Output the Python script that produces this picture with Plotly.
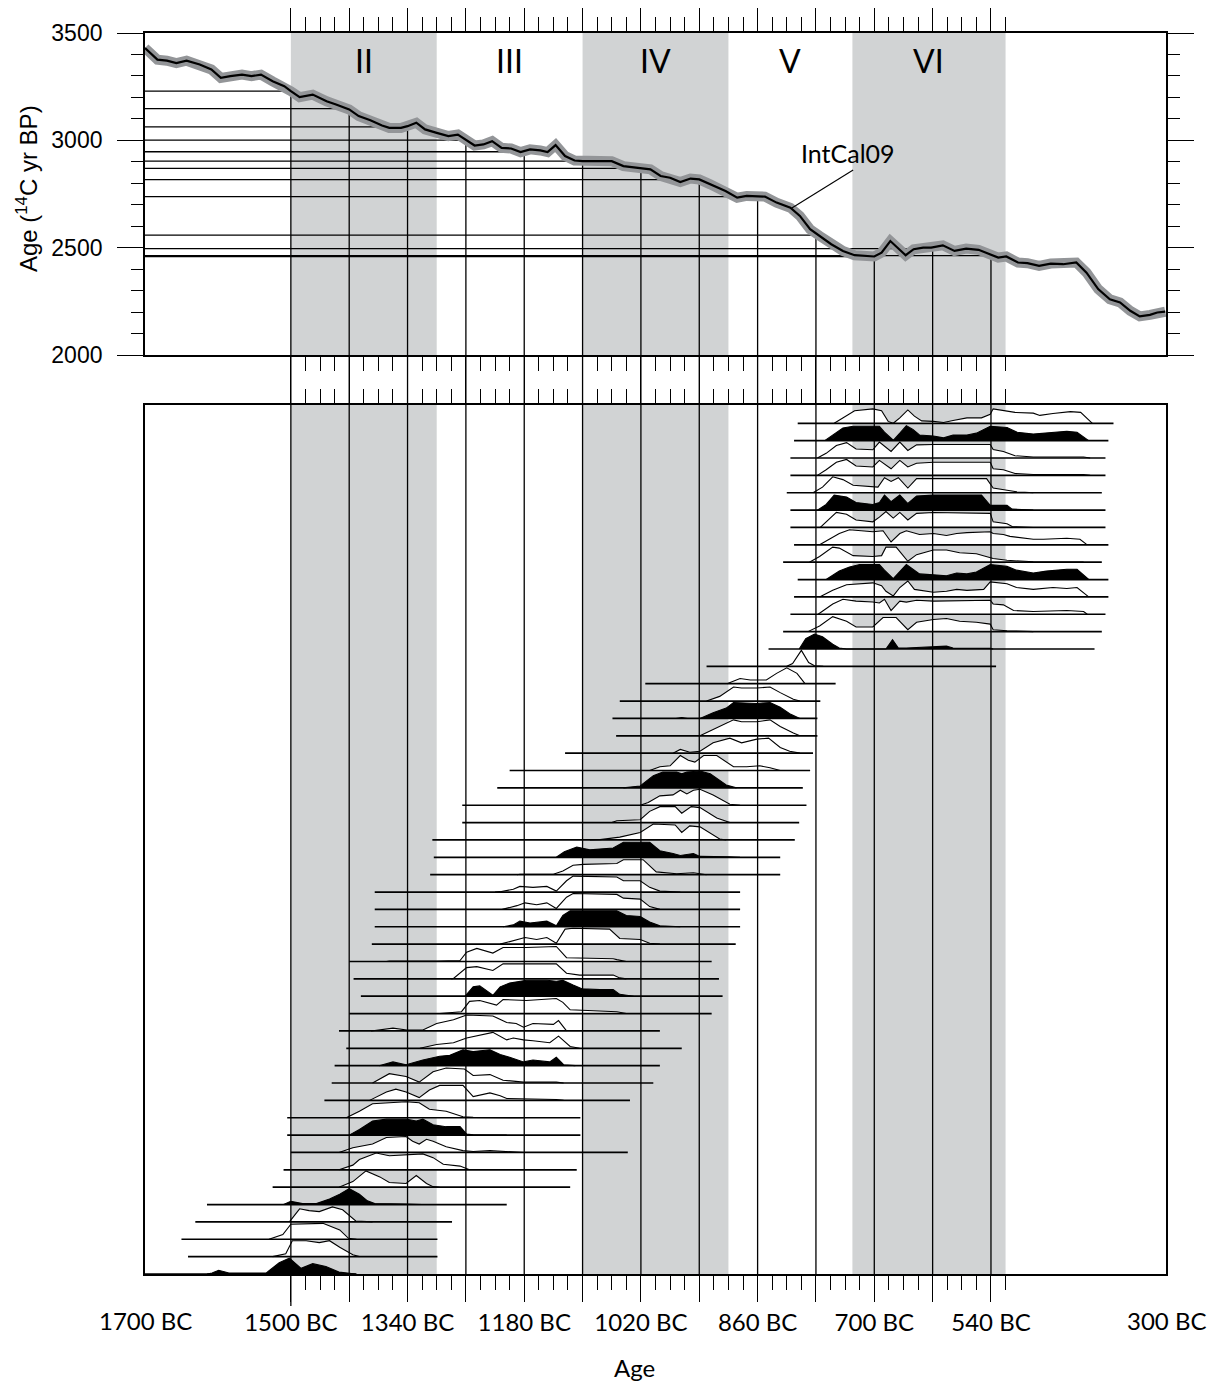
import plotly.graph_objects as go

# ---------------- data ----------------
# IntCal09 calibration curve: calendar age (years BC) and radiocarbon age (14C yr BP)
intcal_bc = [1700,1683,1670,1657,1643,1625,1609,1596,1583,1567,1554,1541,1525,1509,1500,1488,1470,1451,1438,1420,
             1407,1391,1375,1365,1349,1340,1328,1316,1300,1284,1271,1260,1248,1236,1224,1211,1198,1185,1172,1158,
             1148,1137,1124,1111,1100,1077,1060,1044,1020,1007,993,980,966,952,940,925,904,888,875,850,
             834,815,802,788,775,759,743,727,700,690,678,668,657,646,633,622,606,590,574,557,
             540,530,519,503,490,474,458,441,423,409,393,377,363,349,336,322,312,301]
intcal_c14 = [3430,3376,3371,3360,3371,3353,3330,3291,3299,3306,3299,3306,3275,3252,3229,3201,3213,3182,3167,3144,
              3113,3094,3069,3058,3058,3066,3082,3051,3035,3020,3027,3004,2976,2981,2996,2965,2962,2945,2958,2953,
              2945,2978,2927,2906,2903,2903,2903,2880,2872,2865,2834,2826,2806,2822,2818,2795,2764,2733,2741,2738,
              2710,2686,2648,2586,2555,2516,2485,2465,2459,2477,2531,2500,2465,2493,2500,2500,2511,2485,2496,2490,
              2469,2454,2459,2431,2428,2415,2426,2423,2431,2384,2307,2260,2245,2206,2180,2187,2198,2202]

# reference years (major grid) and the 14C ages where they meet the curve
grid_bc = [1500, 1420, 1340, 1260, 1180, 1100, 1020, 940, 860, 780, 700, 620, 540]
grid_c14 = [3229, 3148, 3063, 3001, 2947, 2903, 2869, 2817, 2738, 2559, 2459, 2496, 2463]
minor_bc = [1480, 1460, 1440, 1400, 1380, 1360, 1320, 1300, 1280, 1240, 1220, 1200, 1160, 1140, 1120,
            1080, 1060, 1040, 1000, 980, 960, 920, 900, 880, 840, 820, 800, 760, 740, 720,
            680, 660, 640, 600, 580, 560, 520]
label_bc = [1500, 1340, 1180, 1020, 860, 700, 540]
end_label_bc = [1700, 300]
long_tick_bc = 1500
c14_major = [2000, 2500, 3000, 3500]
c14_minor = [2100, 2200, 2300, 2400, 2600, 2700, 2800, 2900, 3100, 3200, 3300, 3400]

# periods
period_names = ['II', 'III', 'IV', 'V', 'VI']
period_start_bc = [1500, 1300, 1100, 900, 730]
period_end_bc = [1300, 1100, 900, 730, 520]
period_shaded = [True, False, True, False, True]

# calibrated distributions (row 0 = top); baseline extent in years BC
row_start_bc = [805, 810, 815, 815, 820, 815, 815, 810, 825, 805,
                810, 815, 825, 845, 930, 1014, 1049, 1059, 1054, 1124,
                1200, 1217, 1265, 1265, 1306, 1304, 1309, 1385, 1385, 1385,
                1389, 1420, 1414, 1404, 1420, 1434, 1424, 1440, 1444, 1454,
                1505, 1505, 1500, 1510, 1525, 1615, 1631, 1650, 1641, 1700]
row_end_bc = [372, 379, 383, 383, 388, 383, 383, 379, 388, 379,
              379, 383, 388, 398, 533, 753, 774, 778, 778, 784,
              788, 798, 793, 803, 809, 829, 829, 884, 884, 884,
              890, 923, 913, 908, 923, 994, 964, 994, 1003, 1035,
              1103, 1103, 1038, 1108, 1117, 1204, 1279, 1299, 1299, 1410]
black_rows = [1, 5, 9, 13, 17, 21, 25, 29, 33, 37, 41, 45, 49]

# relative probability profiles: (year BC, height in row units)
row_profiles = [
    [(755,0),(738,0.38),(727,0.67),(702,0.77),(690,0.67),(681,0.1),(674,0),(665,0.29),(654,0.71),(645,0.38),(635,0.13),(619,0.1),(605,0.04),(592,0.15),(573,0.29),(553,0.29),(541,0.48),(537,0.77),(507,0.58),(482,0.54),(473,0.42),(455,0.52),(431,0.62),(417,0.58),(401,0)],
    [(768,0),(752,0.44),(743,0.67),(729,0.77),(693,0.77),(686,0.45),(674,0.02),(665,0.4),(656,0.8),(647,0.6),(638,0.3),(619,0.25),(605,0.15),(592,0.3),(573,0.3),(560,0.4),(541,0.77),(518,0.7),(504,0.45),(482,0.35),(463,0.4),(445,0.45),(436,0.5),(422,0.45),(406,0)],
    [(778,0),(766,0.25),(752,0.67),(738,0.82),(725,0.48),(702,0.44),(693,0.85),(677,0.35),(665,0.85),(654,0.4),(642,0.7),(619,0.72),(541,0.72),(537,0.45),(523,0.35),(507,0.12),(482,0.05),(413,0.05),(404,0)],
    [(778,0),(766,0.3),(752,0.7),(738,0.85),(725,0.5),(702,0.45),(693,0.8),(677,0.35),(665,0.8),(654,0.45),(642,0.65),(619,0.7),(541,0.7),(537,0.35),(523,0.3),(507,0.1),(482,0.05),(413,0.05),(404,0)],
    [(784,0),(771,0.3),(757,0.85),(743,0.7),(729,0.4),(702,0.3),(695,0.3),(686,0.8),(677,0.6),(667,0.8),(654,0.25),(642,0.75),(619,0.75),(546,0.75),(537,0.25),(518,0.15),(505,0.05),(482,0)],
    [(778,0),(766,0.3),(755,0.8),(738,0.7),(725,0.4),(702,0.3),(693,0.4),(686,0.8),(677,0.45),(665,0.8),(654,0.35),(642,0.75),(619,0.8),(553,0.8),(541,0.25),(518,0.25),(511,0.05),(482,0)],
    [(774,0),(766,0.3),(752,0.8),(738,0.7),(725,0.4),(702,0.3),(693,0.55),(684,0.85),(674,0.5),(665,0.8),(654,0.4),(642,0.75),(619,0.8),(541,0.75),(537,0.3),(518,0.2),(511,0.05),(482,0)],
    [(775,0),(748,0.6),(734,0.8),(702,0.7),(688,0.75),(677,0.15),(665,0.6),(656,0.75),(638,0.55),(619,0.6),(601,0.5),(587,0.6),(573,0.65),(541,0.7),(537,0.6),(523,0.55),(514,0.45),(482,0.3),(468,0.3),(436,0.35),(418,0.3),(408,0)],
    [(789,0),(775,0.3),(757,0.8),(748,0.75),(729,0.35),(702,0.3),(690,0.35),(684,0.8),(670,0.8),(654,0.05),(642,0.4),(619,0.65),(601,0.65),(583,0.5),(560,0.45),(541,0.25),(537,0.2),(518,0.1),(482,0.02),(413,0)],
    [(766,0),(748,0.45),(734,0.67),(720,0.8),(693,0.8),(686,0.5),(674,0.05),(665,0.4),(656,0.8),(647,0.55),(638,0.3),(619,0.25),(601,0.2),(587,0.35),(573,0.3),(560,0.4),(541,0.8),(518,0.7),(505,0.5),(482,0.35),(464,0.45),(436,0.55),(422,0.55),(406,0)],
    [(775,0),(757,0.35),(738,0.65),(702,0.75),(690,0.6),(684,0.3),(674,0.05),(665,0.5),(654,0.85),(645,0.4),(619,0.25),(601,0.3),(587,0.4),(573,0.35),(550,0.4),(541,0.8),(518,0.7),(505,0.5),(482,0.4),(455,0.5),(436,0.45),(422,0.5),(406,0)],
    [(777,0),(757,0.55),(743,0.8),(725,0.7),(702,0.65),(693,0.6),(686,0.8),(677,0.2),(665,0.7),(656,0.65),(642,0.75),(619,0.7),(541,0.75),(537,0.55),(523,0.5),(509,0.2),(482,0.15),(436,0.2),(413,0.15),(408,0)],
    [(791,0),(775,0.3),(757,0.8),(738,0.55),(725,0.25),(702,0.25),(688,0.75),(670,0.75),(654,0.1),(642,0.5),(619,0.65),(601,0.7),(583,0.55),(560,0.5),(541,0.4),(537,0.1),(518,0.05),(482,0)],
    [(803,0),(794,0.55),(782,0.8),(771,0.65),(757,0.25),(748,0.05),(738,0),(684,0),(675,0.5),(667,0.05),(656,0.05),(619,0.1),(601,0.15),(592,0.05),(573,0.05),(541,0.03),(537,0)],
    [(820,0),(812,0.15),(800,0.85),(790,0.2),(782,0.03),(770,0)],
    [(902,0),(884,0.28),(870,0.2),(848,0.2),(834,0.55),(820,0.85),(806,0.55),(795,0)],
    [(930,0),(912,0.25),(893,0.75),(882,0.7),(861,0.7),(843,0.75),(829,0.45),(811,0.1),(802,0)],
    [(972,0),(964,0.05),(956,0),(939,0),(921,0.3),(903,0.55),(893,0.85),(875,0.8),(861,0.8),(843,0.85),(829,0.6),(816,0.25),(802,0)],
    [(939,0),(921,0.35),(903,0.7),(893,0.85),(882,0.75),(861,0.75),(843,0.85),(829,0.5),(811,0.15),(802,0)],
    [(976,0),(966,0.2),(953,0.05),(939,0.1),(921,0.55),(898,0.8),(882,0.55),(861,0.75),(845,0.8),(829,0.3),(816,0.1),(802,0)],
    [(1008,0),(994,0.2),(980,0.25),(966,0.8),(955,0.55),(946,0.45),(934,0.8),(916,0.8),(893,0.2),(875,0.2),(857,0.25),(843,0.15),(829,0)],
    [(1044,0),(1021,0.1),(1003,0.65),(990,0.85),(971,0.85),(964,0.75),(957,0.85),(939,0.9),(925,0.75),(903,0.15),(889,0)],
    [(1021,0),(1010,0.15),(994,0.5),(976,0.55),(966,0.8),(957,0.6),(948,0.8),(939,0.85),(921,0.55),(898,0.05),(884,0)],
    [(1060,0),(1053,0.1),(1021,0.15),(1008,0.6),(994,0.85),(973,0.85),(964,0.5),(951,0.85),(939,0.8),(916,0.25),(898,0)],
    [(1090,0),(1076,0.02),(1049,0.15),(1021,0.4),(1003,0.85),(973,0.8),(964,0.4),(953,0.75),(939,0.7),(912,0.05),(903,0)],
    [(1136,0),(1125,0.3),(1108,0.55),(1090,0.4),(1058,0.5),(1044,0.8),(1008,0.8),(994,0.35),(976,0.2),(966,0.1),(948,0.2),(939,0.05),(900,0.03),(884,0)],
    [(1190,0),(1186,0.02),(1140,0.02),(1127,0.2),(1113,0.5),(1099,0.55),(1053,0.6),(1044,0.8),(1017,0.8),(999,0.15),(971,0.05),(948,0.1),(930,0)],
    [(1220,0),(1213,0.02),(1195,0.15),(1186,0.3),(1168,0.25),(1149,0.3),(1136,0.05),(1122,0.6),(1113,0.85),(1053,0.8),(1044,0.6),(1021,0.6),(1008,0.25),(994,0.05),(966,0)],
    [(1210,0),(1204,0.05),(1190,0.2),(1179,0.35),(1163,0.25),(1149,0.35),(1136,0.05),(1122,0.65),(1113,0.85),(1053,0.8),(1044,0.6),(1021,0.55),(1008,0.15),(994,0)],
    [(1209,0),(1195,0.1),(1186,0.3),(1172,0.2),(1149,0.3),(1136,0.05),(1127,0.6),(1117,0.85),(1053,0.85),(1040,0.6),(1021,0.55),(1008,0.25),(994,0.05),(966,0)],
    [(1213,0),(1195,0.2),(1179,0.35),(1163,0.25),(1149,0.35),(1136,0.05),(1124,0.8),(1113,0.85),(1063,0.8),(1049,0.3),(1021,0.25),(1008,0.05),(994,0)],
    [(1369,0),(1365,0.02),(1300,0.02),(1268,0.05),(1259,0.5),(1245,0.7),(1223,0.45),(1209,0.75),(1177,0.75),(1136,0.8),(1122,0.2),(1058,0.15),(1053,0.1),(1040,0)],
    [(1280,0),(1277,0.02),(1259,0.6),(1245,0.65),(1223,0.45),(1209,0.8),(1177,0.8),(1136,0.8),(1122,0.3),(1104,0.2),(1058,0.2),(1049,0.05),(1040,0)],
    [(1261,0),(1250,0.5),(1241,0.55),(1223,0.05),(1213,0.5),(1200,0.7),(1177,0.85),(1149,0.85),(1136,0.8),(1127,0.85),(1113,0.6),(1101,0.4),(1076,0.35),(1058,0.35),(1049,0.1),(1030,0)],
    [(1296,0),(1266,0.1),(1255,0.65),(1241,0.7),(1218,0.45),(1209,0.75),(1177,0.7),(1136,0.8),(1127,0.6),(1117,0.2),(1053,0.1),(1040,0)],
    [(1390,0),(1378,0.05),(1360,0.15),(1341,0.05),(1319,0.05),(1300,0.4),(1277,0.6),(1259,0.85),(1223,0.8),(1204,0.45),(1191,0.4),(1181,0.2),(1168,0.4),(1140,0.35),(1133,0.55),(1122,0)],
    [(1323,0),(1300,0.2),(1277,0.3),(1259,0.55),(1223,0.85),(1204,0.45),(1195,0.55),(1181,0.45),(1168,0.4),(1145,0.3),(1133,0.65),(1117,0.1),(1104,0)],
    [(1379,0),(1360,0.2),(1342,0.05),(1319,0.3),(1296,0.5),(1282,0.55),(1264,0.85),(1250,0.75),(1227,0.85),(1213,0.6),(1200,0.45),(1181,0.2),(1168,0.3),(1145,0.2),(1136,0.45),(1126,0.05),(1110,0)],
    [(1388,0),(1365,0.5),(1342,0.35),(1324,0.05),(1305,0.6),(1287,0.8),(1262,0.75),(1250,0.4),(1227,0.45),(1209,0.15),(1181,0.05),(1136,0.05),(1126,0)],
    [(1392,0),(1369,0.45),(1356,0.6),(1342,0.45),(1324,0.15),(1310,0.55),(1296,0.8),(1264,0.8),(1250,0.2),(1227,0.4),(1213,0.25),(1204,0.1),(1136,0.05),(1126,0)],
    [(1424,0),(1406,0.35),(1388,0.75),(1369,0.8),(1342,0.85),(1324,0.8),(1310,0.45),(1287,0.35),(1264,0.05),(1250,0.02),(1204,0.02),(1181,0)],
    [(1420,0),(1406,0.3),(1388,0.75),(1369,0.85),(1342,0.85),(1328,0.75),(1319,0.85),(1305,0.55),(1287,0.45),(1268,0.45),(1259,0.05),(1250,0.02),(1204,0)],
    [(1434,0),(1415,0.25),(1388,0.45),(1369,0.8),(1342,0.85),(1333,0.6),(1324,0.45),(1314,0.7),(1305,0.6),(1287,0.3),(1264,0.1),(1250,0.05),(1227,0.1),(1204,0.05),(1181,0)],
    [(1434,0),(1415,0.25),(1406,0.55),(1383,0.9),(1365,0.75),(1342,0.8),(1319,0.85),(1305,0.65),(1291,0.3),(1268,0.2),(1262,0.1),(1255,0)],
    [(1434,0),(1415,0.3),(1397,0.87),(1378,0.55),(1365,0.25),(1342,0.2),(1328,0.62),(1314,0.2),(1305,0.03),(1296,0)],
    [(1510,0),(1500,0.17),(1484,0.05),(1465,0.05),(1447,0.3),(1433,0.55),(1420,0.85),(1406,0.55),(1395,0.2),(1385,0.05),(1340,0.03),(1320,0)],
    [(1502,0),(1488,0.7),(1475,0.6),(1461,0.55),(1443,0.8),(1429,0.65),(1411,0.05),(1388,0)],
    [(1530,0),(1511,0.25),(1500,0.8),(1456,0.85),(1433,0.5),(1421,0.05),(1410,0)],
    [(1525,0),(1507,0.15),(1498,0.85),(1479,0.85),(1461,0.75),(1447,0.85),(1433,0.5),(1415,0.1),(1406,0)],
    [(1615,0),(1608,0.05),(1599,0.2),(1585,0.05),(1534,0.05),(1516,0.6),(1502,0.85),(1486,0.3),(1470,0.55),(1452,0.4),(1434,0.1),(1411,0)],
]

curve_label = 'IntCal09'
curve_label_pos = (736, 2941)
curve_leader = (729, 2862, 813, 2685)

# ---------------- styling ----------------
# the page body adds an 8 px offset, so the figure is 8 px smaller than the window
W, H = 1208, 1389
PLOT_H = 1241
TOP_DOM = [0.7405, 1.0]
LOW_DOM = [0.0, 0.7002]
N_ROWS = len(row_profiles)
LOW_YMAX = 50.05
ROW_SCALE = 1.08          # height of one probability unit in row spacings
BAND = '#d1d3d4'
ENVELOPE = '#939598'
XR = [-1700, -300]
TXT_FONT = 'Lato, Open Sans, sans-serif'
NUM_FONT = 'Liberation Sans, Arial, sans-serif'

fig = go.Figure()

# shaded periods
for s, e, sh in zip(period_start_bc, period_end_bc, period_shaded):
    if sh:
        fig.add_shape(type='rect', xref='x', yref='y', x0=-s, x1=-e, y0=2000, y1=3500,
                      fillcolor=BAND, line_width=0, layer='below')
        fig.add_shape(type='rect', xref='x2', yref='y2', x0=-s, x1=-e, y0=0, y1=LOW_YMAX,
                      fillcolor=BAND, line_width=0, layer='below')

# construction lines in the calibration panel
hx, hy, vx, vy = [], [], [], []
for bc, c in zip(grid_bc, grid_c14):
    hx += [XR[0], -bc, None]
    hy += [c, c, None]
    vx += [-bc, -bc, None]
    vy += [2000, c, None]
fig.add_trace(go.Scatter(x=hx, y=hy, mode='lines', line=dict(color='black', width=1.3),
                         xaxis='x', yaxis='y', hoverinfo='skip', showlegend=False))
fig.add_trace(go.Scatter(x=vx, y=vy, mode='lines', line=dict(color='black', width=1.3),
                         xaxis='x', yaxis='y', hoverinfo='skip', showlegend=False))

# calibration curve
cx = [-b for b in intcal_bc]
fig.add_trace(go.Scatter(x=cx, y=intcal_c14, mode='lines', line=dict(color=ENVELOPE, width=10),
                         xaxis='x', yaxis='y', hoverinfo='skip', showlegend=False))
fig.add_trace(go.Scatter(x=cx, y=intcal_c14, mode='lines', line=dict(color='black', width=2.2),
                         xaxis='x', yaxis='y', hoverinfo='skip', showlegend=False))

# calibrated distributions
for i in range(N_ROWS):
    y0 = N_ROWS - 1 - i
    prof = row_profiles[i]
    is_black = i in black_rows
    fig.add_trace(go.Scatter(x=[-a for a, h in prof], y=[y0 + h * ROW_SCALE for a, h in prof], mode='lines',
                             fill='toself', fillcolor='black' if is_black else 'white',
                             line=dict(color='black', width=1.1), xaxis='x2', yaxis='y2',
                             hoverinfo='skip', showlegend=False))
    fig.add_trace(go.Scatter(x=[-row_start_bc[i], -row_end_bc[i]], y=[y0, y0], mode='lines',
                             line=dict(color='black', width=1.7), xaxis='x2', yaxis='y2',
                             hoverinfo='skip', showlegend=False))

# vertical reference lines through the gap and the lower panel
for bc in grid_bc:
    fig.add_shape(type='line', xref='x2', yref='paper', x0=-bc, x1=-bc, y0=0, y1=TOP_DOM[0],
                  line=dict(color='black', width=1.3), layer='above')
# the first reference year has a longer tick below the axis
fig.add_shape(type='line', xref='x2', yref='paper', x0=-long_tick_bc, x1=-long_tick_bc,
              y0=0, y1=-32 / PLOT_H, line=dict(color='black', width=1.3))

# leader line for the curve label
fig.add_shape(type='line', xref='x', yref='y', x0=-curve_leader[0], y0=curve_leader[1],
              x1=-curve_leader[2], y1=curve_leader[3], line=dict(color='black', width=1.1))

annotations = []
for name, s, e in zip(period_names, period_start_bc, period_end_bc):
    annotations.append(dict(x=-(s + e) / 2, y=3374, xref='x', yref='y', text=name, showarrow=False,
                            xanchor='center', yanchor='middle',
                            font=dict(family=TXT_FONT, size=32, color='black')))
annotations.append(dict(x=-curve_label_pos[0], y=curve_label_pos[1], xref='x', yref='y', text=curve_label,
                        showarrow=False, xanchor='center', yanchor='middle',
                        font=dict(family=TXT_FONT, size=25, color='black')))
for bc in end_label_bc:
    annotations.append(dict(x=-bc, y=0, xref='x2', yref='paper', xanchor='center', yanchor='top', yshift=-30,
                            text=f'{bc} BC', showarrow=False,
                            font=dict(family=TXT_FONT, size=24, color='black')))
annotations.append(dict(x=0.479, y=-0.0757, xref='paper', yref='paper', text='Age', showarrow=False,
                        xanchor='center', yanchor='middle',
                        font=dict(family=TXT_FONT, size=24, color='black')))
annotations.append(dict(x=-0.1156, y=0.875, xref='paper', yref='paper',
                        text='Age (<sup>14</sup>C yr BP)', textangle=-90, showarrow=False,
                        xanchor='center', yanchor='middle',
                        font=dict(family=NUM_FONT, size=24, color='black')))

common_x = dict(range=XR, showgrid=False, zeroline=False, showline=True, linecolor='black', linewidth=1.8,
                mirror='ticks', ticks='outside', ticklen=26, tickwidth=1.3, tickcolor='black',
                automargin=False, tickvals=[-b for b in grid_bc],
                minor=dict(tickmode='array', tickvals=[-b for b in minor_bc], ticks='outside',
                           ticklen=14, tickwidth=1.3, tickcolor='black', showgrid=False))

fig.update_layout(
    width=W, height=H, margin=dict(l=137, r=50, t=25, b=123, autoexpand=False),
    paper_bgcolor='white', plot_bgcolor='white', showlegend=False,
    xaxis=dict(common_x, domain=[0, 1], anchor='y', side='top', showticklabels=False),
    xaxis2=dict(common_x, domain=[0, 1], anchor='y2', side='bottom', showticklabels=True,
                ticktext=[f'{b} BC' if b in label_bc else '' for b in grid_bc],
                tickfont=dict(family=TXT_FONT, size=24, color='black'), ticklabelstandoff=0),
    yaxis=dict(domain=TOP_DOM, range=[2000, 3500], anchor='x', showgrid=False, zeroline=False,
               showline=True, linecolor='black', linewidth=1.8, mirror='ticks', ticks='outside',
               ticklen=26, tickwidth=1.3, tickcolor='black', tickvals=c14_major, automargin=False,
               ticktext=[str(v) for v in c14_major], ticklabelstandoff=10,
               tickfont=dict(family=NUM_FONT, size=23, color='black'),
               minor=dict(tickmode='array', tickvals=c14_minor, ticks='outside', ticklen=12,
                          tickwidth=1.3, tickcolor='black', showgrid=False)),
    yaxis2=dict(domain=LOW_DOM, range=[0, LOW_YMAX], anchor='x2', showgrid=False, zeroline=False,
                showline=True, linecolor='black', linewidth=1.8, mirror=True, ticks='',
                showticklabels=False, automargin=False),
    annotations=annotations,
)

fig.write_html('out.html')
